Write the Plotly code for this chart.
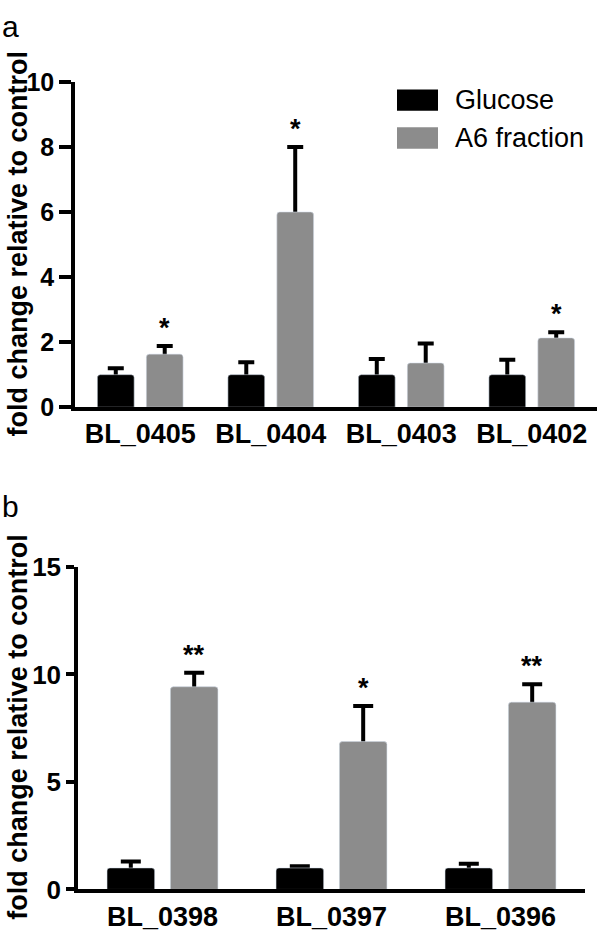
import plotly.graph_objects as go

# ---------------- data ----------------
genes_a = ["BL_0405", "BL_0404", "BL_0403", "BL_0402"]
glucose_a = [1.0, 1.0, 1.0, 1.0]
glucose_a_err = [0.2, 0.38, 0.48, 0.46]
a6_a = [1.63, 6.0, 1.36, 2.13]
a6_a_err = [0.25, 2.0, 0.6, 0.17]
sig_a = ["*", "*", "", "*"]

genes_b = ["BL_0398", "BL_0397", "BL_0396"]
glucose_b = [1.0, 1.0, 1.0]
glucose_b_err = [0.3, 0.08, 0.2]
a6_b = [9.43, 6.88, 8.71]
a6_b_err = [0.65, 1.65, 0.84]
sig_b = ["**", "*", "**"]

series_names = ["Glucose", "A6 fraction"]
ytitle = "fold change relative to control"

# ---------------- style ----------------
W, H = 600, 949
BLACK = "#000000"
GREY = "#8c8c8c"
FONT = "Arial, Liberation Sans, sans-serif"
BARGAP = 0.25
GROUPGAP = 0.25


def px_x(p):
    return p / W


def px_y(p):
    return 1 - p / H


fig = go.Figure()


def add_panel(cats, g, ge, a, ae, xa, ya, capw):
    # bars with error bars
    fig.add_trace(go.Bar(x=cats, y=g, name=series_names[0], marker=dict(color=BLACK, cornerradius=3),
                         error_y=dict(type="data", array=ge, color=BLACK, thickness=4, width=capw),
                         offsetgroup="g", xaxis=xa, yaxis=ya, showlegend=False))
    fig.add_trace(go.Bar(x=cats, y=a, name=series_names[1], marker=dict(color=GREY, cornerradius=3),
                         error_y=dict(type="data", array=ae, color=BLACK, thickness=4, width=capw),
                         offsetgroup="a", xaxis=xa, yaxis=ya, showlegend=False))
    # same bars drawn again on top so only the upper half of each error bar shows
    fig.add_trace(go.Bar(x=cats, y=g, marker=dict(color=BLACK, cornerradius=3), offsetgroup="g",
                         xaxis=xa, yaxis=ya, showlegend=False, hoverinfo="skip"))
    fig.add_trace(go.Bar(x=cats, y=a, marker=dict(color=GREY, cornerradius=3), offsetgroup="a",
                         xaxis=xa, yaxis=ya, showlegend=False, hoverinfo="skip"))


add_panel(genes_a, glucose_a, glucose_a_err, a6_a, a6_a_err, "x", "y", 8)
add_panel(genes_b, glucose_b, glucose_b_err, a6_b, a6_b_err, "x2", "y2", 10)

# significance stars above A6 bars
off = (1 - BARGAP) / 4
annotations = []
STAR_FONT = dict(size=27, color=BLACK, family=FONT, weight="bold")
for i, (v, e, s) in enumerate(zip(a6_a, a6_a_err, sig_a)):
    if s:
        annotations.append(dict(x=i + off, y=v + e, xref="x", yref="y", text=s, showarrow=False,
                                yanchor="bottom", yshift=1, font=STAR_FONT))
for i, (v, e, s) in enumerate(zip(a6_b, a6_b_err, sig_b)):
    if s:
        annotations.append(dict(x=i + off, y=v + e, xref="x2", yref="y2", text=s, showarrow=False,
                                yanchor="bottom", yshift=1, font=STAR_FONT))

# y-axis titles
TITLE_FONT = dict(size=27, color=BLACK, family=FONT, weight="bold")
annotations.append(dict(x=px_x(1), y=px_y(236), xref="paper", yref="paper", text=ytitle,
                        textangle=-90, showarrow=False, xanchor="left", yanchor="middle",
                        font=TITLE_FONT))
annotations.append(dict(x=px_x(1), y=px_y(735), xref="paper", yref="paper", text=ytitle,
                        textangle=-90, showarrow=False, xanchor="left", yanchor="middle",
                        font=TITLE_FONT))
# panel letters
annotations.append(dict(x=px_x(0), y=px_y(12), xref="paper", yref="paper", text="a", showarrow=False,
                        xanchor="left", yanchor="middle", font=dict(size=30, color=BLACK, family=FONT)))
annotations.append(dict(x=px_x(0), y=px_y(508), xref="paper", yref="paper", text="b", showarrow=False,
                        xanchor="left", yanchor="middle", font=dict(size=30, color=BLACK, family=FONT)))

# legend (manual, large swatches)
shapes = []
leg_colors = [BLACK, GREY]
leg_y = [88, 127]
for name, col, yc in zip(series_names, leg_colors, leg_y):
    shapes.append(dict(type="rect", xref="paper", yref="paper", x0=px_x(397), x1=px_x(438),
                       y0=px_y(yc - 11), y1=px_y(yc + 11), fillcolor=col, line=dict(width=0)))
    annotations.append(dict(x=px_x(453), y=px_y(yc), xref="paper", yref="paper", text=name, showarrow=False,
                            xanchor="left", yanchor="middle", font=dict(size=27, color=BLACK, family=FONT)))

axis_common = dict(showline=True, linecolor=BLACK, linewidth=3.5, showgrid=False, zeroline=False)

fig.update_layout(
    width=W, height=H,
    margin=dict(l=0, r=0, t=0, b=0),
    paper_bgcolor="white", plot_bgcolor="white",
    barmode="group", bargap=BARGAP, bargroupgap=GROUPGAP,
    font=dict(family=FONT, color=BLACK),
    showlegend=False,
    annotations=annotations,
    shapes=shapes,
    xaxis=dict(domain=[px_x(75), px_x(597)], anchor="y", ticks="", range=[-0.5, 3.5],
               tickfont=dict(size=27, weight="bold", family=FONT), **axis_common),
    yaxis=dict(domain=[px_y(405), px_y(69)], anchor="x", range=[0, 10], dtick=2, ticks="outside",
               ticklen=12, tickwidth=3.5, tickcolor=BLACK,
               tickfont=dict(size=25, weight="bold", family=FONT), **axis_common),
    xaxis2=dict(domain=[px_x(78), px_x(585)], anchor="y2", ticks="", range=[-0.5, 2.5],
                tickfont=dict(size=27, weight="bold", family=FONT), **axis_common),
    yaxis2=dict(domain=[px_y(903), px_y(570)], anchor="x2", range=[0, 15], dtick=5, ticks="outside",
                ticklen=8, tickwidth=3.5, tickcolor=BLACK,
                tickfont=dict(size=26, weight="bold", family=FONT), **axis_common),
)

fig.write_html("out.html", config={"displayModeBar": False},
               post_script="document.body.style.margin='0';document.body.style.overflow='hidden';")
